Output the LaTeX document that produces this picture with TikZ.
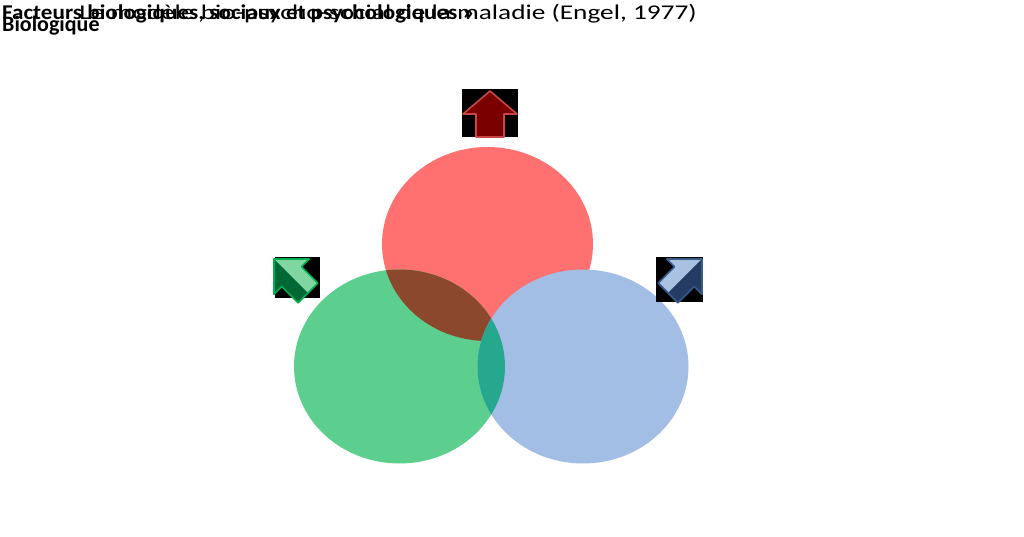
\documentclass[tikz,border=0pt]{standalone}
\usepackage{fontspec}
\setmainfont{Carlito}
\usetikzlibrary{shapes.geometric}

\definecolor{cred}{RGB}{255,112,112}
\definecolor{cgreen}{RGB}{92,206,142}
\definecolor{cblue}{RGB}{163,190,228}
\definecolor{lensrg}{RGB}{140,72,44}
\definecolor{lensgb}{RGB}{38,168,142}
\definecolor{redarrow}{RGB}{122,0,0}
\definecolor{redline}{RGB}{200,70,70}
\definecolor{greendark}{RGB}{0,104,52}
\definecolor{greenlight}{RGB}{128,214,160}
\definecolor{greenline}{RGB}{0,176,80}
\definecolor{bluedark}{RGB}{36,60,100}
\definecolor{bluelight}{RGB}{170,194,226}
\definecolor{blueline}{RGB}{56,92,138}

\begin{document}
\begin{tikzpicture}[x=1pt,y=-1pt]

% size of each circle
\def\rx{105.5}
\def\ry{97}
% node style definition
\tikzstyle{disc} = [
	ellipse, draw=none, inner sep=0pt,
	minimum width=211pt, minimum height=194pt ];
\tikzstyle{edge} = [line width=1.6pt, line join=round];
\tikzstyle{title} = [anchor=base west, inner sep=0pt, font=\fontsize{21}{25}\selectfont];

\useasboundingbox (0,0) rectangle (1024,537);

% titles (stacked on top of each other)
\node[title, anchor=base east] (t0) at (697,20) {\scalebox{1.3}[1]{Le modèle bio-psycho-social de la maladie (Engel, 1977)}};
\node[title, font=\fontsize{21}{25}\selectfont\bfseries] (t1) at (2,20) {\scalebox{1.1}[1]{Facteurs biologiques, sociaux et psychologiques »}};
\node[title, font=\fontsize{22}{26}\selectfont\bfseries] (t2) at (2,32) {Biologique};

% circles
\node[disc, fill=cred] (bio) at (487.5,244) {};
\node[disc, fill=cgreen] (psy) at (399.5,366.5) {};
\begin{scope}
	\clip (bio.center) ellipse [x radius=\rx, y radius=\ry];
	\fill[lensrg] (psy.center) ellipse [x radius=\rx, y radius=\ry];
\end{scope}
\node[disc, fill=cblue] (soc) at (583,366.5) {};
\begin{scope}
	\clip (soc.center) ellipse [x radius=\rx, y radius=\ry];
	\fill[lensgb] (psy.center) ellipse [x radius=\rx, y radius=\ry];
\end{scope}

% arrows with their black boxes
\fill[black] (462,89) rectangle (518,137);
\fill[black] (275,257) rectangle (320,298);
\fill[black] (656,257) rectangle (703,302);

\begin{scope}[shift={(490,91)}]
	\draw[edge, draw=redline, fill=redarrow] (0,0) -- (-27,23) -- (-14,23) -- (-14,46) -- (14,46) -- (14,23) -- (27,23) -- cycle;
\end{scope}

\begin{scope}[shift={(274,259)}, rotate=45]
	\fill[greendark] (0,0) -- (-25,25) -- (-14,25) -- (-14,48) -- (0,48) -- cycle;
	\fill[greenlight] (0,0) -- (25,25) -- (14,25) -- (14,48) -- (0,48) -- cycle;
	\draw[edge, draw=greenline] (0,0) -- (-25,25) -- (-14,25) -- (-14,48) -- (14,48) -- (14,25) -- (25,25) -- cycle;
\end{scope}

\begin{scope}[shift={(702,259)}, rotate=-45]
	\fill[bluelight] (0,0) -- (-25,25) -- (-14,25) -- (-14,48) -- (0,48) -- cycle;
	\fill[bluedark] (0,0) -- (25,25) -- (14,25) -- (14,48) -- (0,48) -- cycle;
	\draw[edge, draw=blueline] (0,0) -- (-25,25) -- (-14,25) -- (-14,48) -- (14,48) -- (14,25) -- (25,25) -- cycle;
\end{scope}

\end{tikzpicture}
\end{document}
